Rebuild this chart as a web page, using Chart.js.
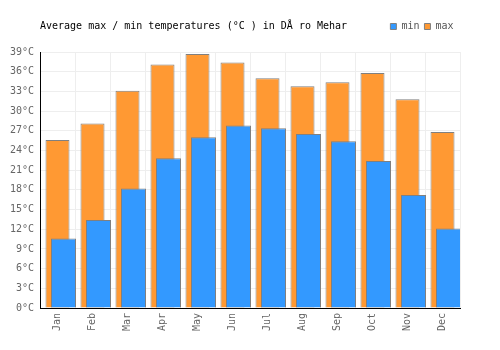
<!DOCTYPE html>
<html>
<head>
<meta charset="utf-8">
<script src="https://cdn.jsdelivr.net/npm/chart.js@4.4.1/dist/chart.umd.min.js"></script>
<style>
  html, body { margin: 0; padding: 0; background: #fff; }
  #wrap { width: 500px; height: 350px; }
</style>
</head>
<body>
<div id="wrap"><canvas id="tempChart" width="500" height="350"></canvas></div>
<script>
// values
const months = ['Jan', 'Feb', 'Mar', 'Apr', 'May', 'Jun', 'Jul', 'Aug', 'Sep', 'Oct', 'Nov', 'Dec'];
const minTemps = [10.6, 13.4, 18.2, 22.8, 26.0, 27.8, 27.4, 26.5, 25.4, 22.4, 17.2, 12.1];
const maxTemps = [25.6, 28.1, 33.1, 37.1, 38.7, 37.4, 35.0, 33.8, 34.4, 35.8, 31.8, 26.8];
const yMax = 39;
const yStep = 3;
const chartTitle = 'Average max / min temperatures (°C ) in DÅ ro Mehar';

document.addEventListener('DOMContentLoaded', function() {
    Chart.defaults.font.family = "'DejaVu Sans Mono', monospace";
    Chart.defaults.font.size = 10;
    Chart.defaults.color = '#666';

    // min bars sit a little to the right of the max bars
    const minShift = 6 / 35;

    // title and legend share one row above the plot
    const titleRow = {
        id: 'titleRow',
        afterLayout(chart) {
            const t = chart.titleBlock;
            const th = t.height;
            t.top = 10.5;
            t.bottom = t.top + th;

            const lg = chart.legend;
            const h = lg.height;
            lg.top = 16.5;
            lg.bottom = lg.top + h;
            lg.right = 458.5;
        }
    };

    const ctx = document.getElementById('tempChart').getContext('2d');
    new Chart(ctx, {
        type: 'bar',
        data: {
            labels: months,
            datasets: [{
                label: 'min',
                data: minTemps.map((v, i) => ({ x: i, y: v })),
                xAxisID: 'xMin',
                backgroundColor: '#3399ff',
                borderColor: '#808080',
                borderWidth: 1,
                grouped: false,
                categoryPercentage: 1,
                barPercentage: 25 / 35
            }, {
                label: 'max',
                data: maxTemps,
                xAxisID: 'x',
                backgroundColor: '#ff9933',
                borderColor: '#808080',
                borderWidth: 1,
                grouped: false,
                categoryPercentage: 1,
                barPercentage: 24 / 35
            }]
        },
        options: {
            responsive: false,
            animation: false,
            layout: { padding: { top: 0, left: 0, right: 40, bottom: 0 } },
            plugins: {
                title: {
                    display: true,
                    text: chartTitle,
                    align: 'start',
                    fullSize: false,
                    color: '#000',
                    font: { size: 10, weight: 'normal' },
                    padding: { top: 10, bottom: 5 }
                },
                legend: {
                    position: 'top',
                    align: 'end',
                    labels: {
                        boxWidth: 6,
                        boxHeight: 6,
                        padding: 5,
                        color: '#555',
                        font: { size: 10 }
                    }
                },
                tooltip: { enabled: false }
            },
            scales: {
                x: {
                    type: 'category',
                    offset: true,
                    grid: { color: '#eeeeee', offset: true, drawTicks: false },
                    border: { color: '#000' },
                    ticks: { minRotation: 90, maxRotation: 90, padding: 5, color: '#666' },
                    afterFit(scale) { scale.height = 42; }
                },
                xMin: {
                    type: 'linear',
                    position: 'bottom',
                    offset: false,
                    min: -0.5 - minShift,
                    max: months.length - 0.5 - minShift,
                    ticks: { display: false },
                    grid: { display: false },
                    border: { display: false },
                    afterFit(scale) { scale.height = 0; }
                },
                y: {
                    min: 0,
                    max: yMax,
                    grid: { color: '#eeeeee', drawTicks: false },
                    border: { color: '#000' },
                    ticks: {
                        stepSize: yStep,
                        padding: 6,
                        color: '#666',
                        callback: v => v + '°C'
                    },
                    afterFit(scale) { scale.width = 40; }
                }
            }
        },
        plugins: [titleRow]
    });
});
</script>
</body>
</html>
